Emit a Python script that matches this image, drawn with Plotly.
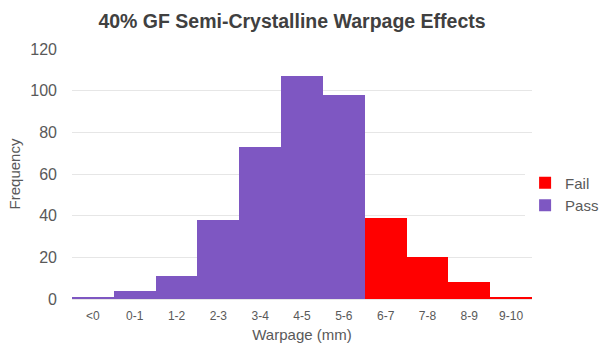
import plotly.graph_objects as go

categories = ["<0", "0-1", "1-2", "2-3", "3-4", "4-5", "5-6", "6-7", "7-8", "8-9", "9-10"]
pass_values = [1, 4, 11, 38, 73, 107, 98, None, None, None, None]
fail_values = [None, None, None, None, None, None, None, 39, 20, 8, 1]
y_ticks = [0, 20, 40, 60, 80, 100, 120]

fig = go.Figure()
fig.add_trace(go.Bar(x=categories, y=fail_values, name="Fail", legendgroup="f",
                     marker=dict(color="#FF0000", line=dict(width=0))))
fig.add_trace(go.Bar(x=categories, y=pass_values, name="Pass", legendgroup="p",
                     marker=dict(color="#7E57C2", line=dict(width=0))))

fig.update_layout(
    width=601, height=345,
    margin=dict(l=72, r=69, t=49, b=46, autoexpand=False),
    paper_bgcolor="white", plot_bgcolor="white",
    barmode="stack", bargap=0,
    font=dict(family="Liberation Sans, Arial, sans-serif", color="#595959"),
    title=dict(text="<b>40% GF Semi-Crystalline Warpage Effects</b>", x=292/601, xanchor="center",
               y=1 - 21/345, yanchor="middle", font=dict(size=19.5, color="#404040")),
    legend=dict(x=0.985, y=0.53, xanchor="left", yanchor="top", traceorder="normal",
                font=dict(size=15, color="#595959"), itemwidth=30, tracegroupgap=6),
    showlegend=True,
)
fig.update_xaxes(title=dict(text="Warpage (mm)", font=dict(size=15, color="#595959"), standoff=7),
                 tickfont=dict(size=12, color="#595959"), showgrid=False, showline=False,
                 ticks="outside", ticklen=6, tickcolor="rgba(0,0,0,0)")
fig.update_yaxes(range=[0, 120], tickvals=y_ticks, showgrid=True, gridcolor="#E6E6E6", gridwidth=1,
                 zeroline=True, zerolinecolor="#E6E6E6", zerolinewidth=1,
                 title=dict(text="Frequency", font=dict(size=15, color="#595959"), standoff=6),
                 tickfont=dict(size=16, color="#595959"),
                 ticks="", ticklabelstandoff=14)

fig.write_html("out.html")
